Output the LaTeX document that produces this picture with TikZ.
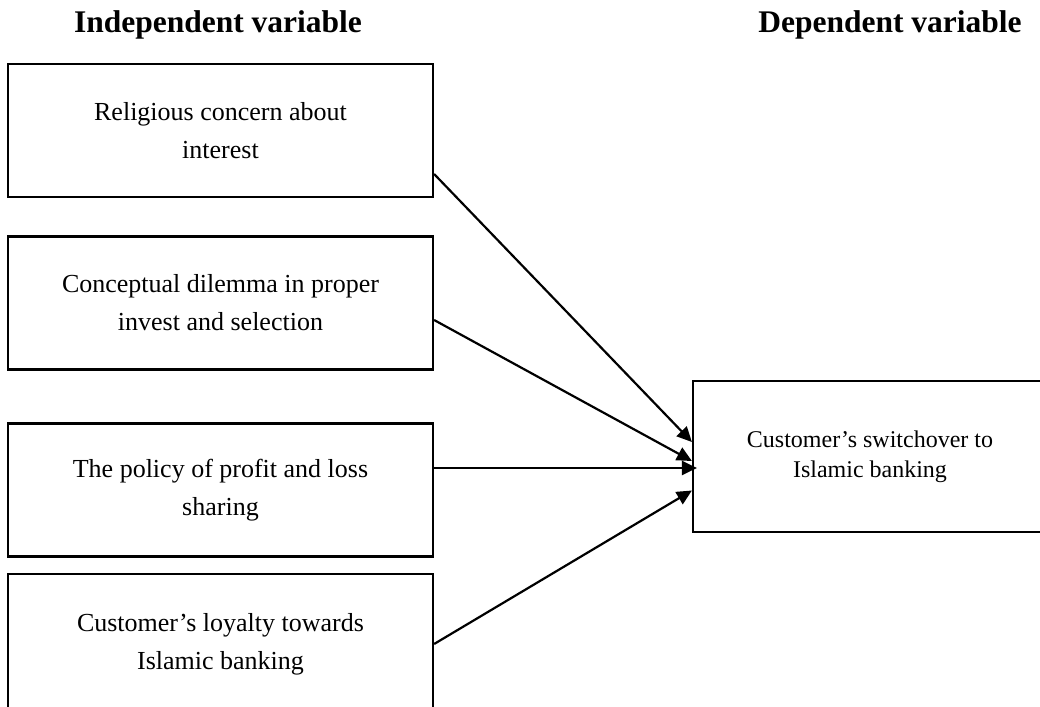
\documentclass[tikz,border=0pt]{standalone}
\usepackage{fontspec}
\setmainfont{Liberation Serif}
\usetikzlibrary{arrows.meta,calc}
\begin{document}
\begin{tikzpicture}[x=1pt,y=-1pt,
  ivbox/.style={draw=black,line width=2.2pt,minimum width=425pt,minimum height=133pt,inner sep=0pt,align=center,font=\fontsize{26}{38}\selectfont},
  dvbox/.style={draw=black,line width=2.2pt,minimum width=354pt,minimum height=151pt,inner sep=0pt,align=center,font=\fontsize{24}{30}\selectfont},
  heading/.style={font=\fontsize{31.5}{36}\selectfont\bfseries,inner sep=0pt,anchor=base},
  link/.style={line width=2.2pt,-{Triangle[length=15pt,width=14pt]}}]
\useasboundingbox (0,0) rectangle (1040,706);
\clip (0,0) rectangle (1040,706);
\node[heading] (hi) at (218,33) {Independent variable};
\node[heading] (hd) at (890,33) {Dependent variable};
\node[ivbox] (b1) at (220.5,130.5) {Religious concern about\\interest};
\node[ivbox] (b2) at (220.5,303) {Conceptual dilemma in proper\\invest and selection};
\node[ivbox] (b3) at (220.5,490) {The policy of profit and loss\\sharing};
\node[ivbox,minimum height=140pt] (b4) at (220.5,644) {Customer’s loyalty towards\\Islamic banking};
\node[dvbox] (dv) at (870,456.5) {Customer’s switchover to\\Islamic banking};
\draw[link] ($(b1.east)+(0,43.5)$) -- ($(dv.west)+(0,-14.5)$);
\draw[link] ($(b2.east)+(0,17)$) -- ($(dv.west)+(0,4.5)$);
\draw[link] ($(b3.east)+(0,-22)$) -- ($(dv.west)+(5,11.5)$);
\draw[link] ($(b4.east)+(0,0)$) -- ($(dv.west)+(0,34)$);
\end{tikzpicture}
\end{document}
